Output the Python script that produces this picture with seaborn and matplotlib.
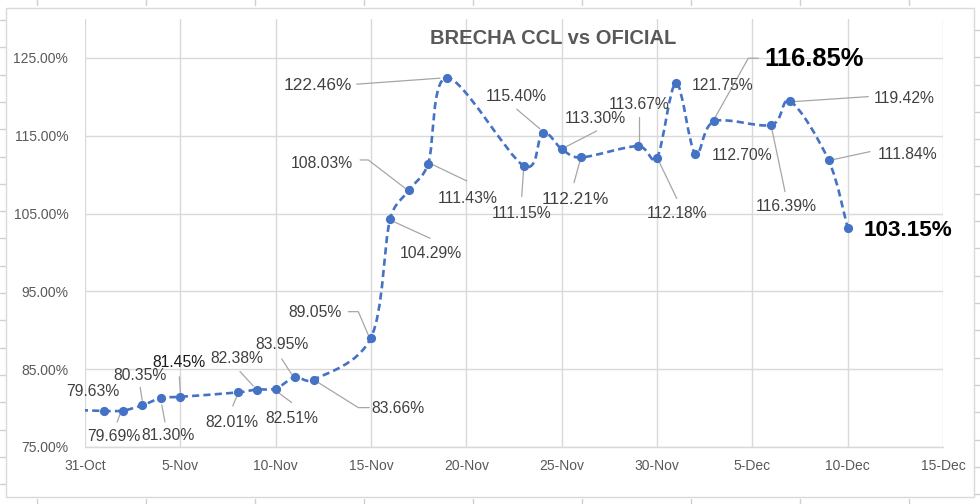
import numpy as np
import pandas as pd
import matplotlib
matplotlib.use("Agg")
import matplotlib.pyplot as plt
import matplotlib.dates as mdates
import matplotlib.transforms as mtransforms
from matplotlib.path import Path
from matplotlib.patches import PathPatch, Rectangle
from matplotlib.lines import Line2D
import seaborn as sns

# ---------------- data ----------------
title = "BRECHA CCL vs OFICIAL"
dates = ["2021-10-29", "2021-11-01", "2021-11-02", "2021-11-03", "2021-11-04",
         "2021-11-05", "2021-11-08", "2021-11-09", "2021-11-10", "2021-11-11",
         "2021-11-12", "2021-11-15", "2021-11-16", "2021-11-17", "2021-11-18",
         "2021-11-19", "2021-11-23", "2021-11-24", "2021-11-25", "2021-11-26",
         "2021-11-29", "2021-11-30", "2021-12-01", "2021-12-02", "2021-12-03",
         "2021-12-06", "2021-12-07", "2021-12-09", "2021-12-10"]
brecha = [79.90, 79.63, 79.69, 80.35, 81.30,
          81.45, 82.01, 82.38, 82.51, 83.95,
          83.66, 89.05, 104.29, 108.03, 111.43,
          122.46, 111.15, 115.40, 113.30, 112.21,
          113.67, 112.18, 121.75, 112.70, 116.85,
          116.39, 119.42, 111.84, 103.15]
xtick_dates = ["2021-10-31", "2021-11-05", "2021-11-10", "2021-11-15", "2021-11-20",
               "2021-11-25", "2021-11-30", "2021-12-05", "2021-12-10", "2021-12-15"]
xtick_labels = ["31-Oct", "5-Nov", "10-Nov", "15-Nov", "20-Nov",
                "25-Nov", "30-Nov", "5-Dec", "10-Dec", "15-Dec"]
ytick_values = [75, 85, 95, 105, 115, 125]
ytick_labels = ["75.00%", "85.00%", "95.00%", "105.00%", "115.00%", "125.00%"]

# ---------------- label layout (pixel offsets from point; y down) ----------------
# index: (dx, dy, leader vertices, fontsize, weight, color)
N, B = "#404040", "#000000"
layout = {
    1: (-11, -19.5, [], 11.3, "normal", N),
    2: (-9, 25.5, [(-6, 11.5), (-3, 3.5)], 11.3, "normal", N),
    3: (-2.2, -29.7, [(-2, -18), (0, -5)], 11.3, "normal", N),
    4: (6.5, 38, [(0.5, 7), (3.7, 24)], 11.3, "normal", N),
    5: (-1.1, -34, [(-1, -20), (0, -4.5)], 11.3, "normal", "#1a1a1a"),
    6: (-5.8, 30.2, [(-4.8, 13.5), (-0.8, 4)], 11.3, "normal", N),
    7: (-19.9, -30.6, [(-16.6, -18), (-3.3, -3.6)], 11.3, "normal", N),
    8: (16, 29.7, [(2.6, 4), (16, 14)], 11.3, "normal", N),
    9: (-13, -32.4, [(-13, -18.4), (-3, -3)], 11.3, "normal", N),
    10: (84.4, 28.7, [(3, 2), (44.5, 28), (55.5, 28)], 11.3, "normal", N),
    11: (-56, -25.4, [(-2.7, -2.7), (-12.7, -26), (-22.7, -26)], 11.3, "normal", N),
    12: (41, 34.2, [(5, 3.2), (40, 19.2)], 11.3, "normal", N),
    13: (-87.8, -26, [(-4, -1.7), (-40.8, -30), (-49, -30)], 11.3, "normal", N),
    14: (39.3, 34.7, [(5, 1.4), (38.5, 17.4)], 11.3, "normal", N),
    15: (-129.8, 8.2, [(-7.3, 0.5), (-90.6, 6.5)], 12.4, "normal", N),
    16: (-2.2, 47.5, [(0, 4.2), (-1.8, 30.9)], 11.3, "normal", N),
    17: (-25.9, -36, [(-2.6, -3.7), (-25.9, -23.4)], 11.3, "normal", N),
    18: (34.1, -30, [(3.3, -1.7), (35, -18)], 11.3, "normal", N),
    19: (-5.5, 41.8, [(-0.7, 3.2), (-6.7, 25.2)], 12.4, "normal", N),
    20: (1.6, -41.8, [(1.4, -3.4), (1.4, -29.4)], 11.3, "normal", N),
    21: (20.5, 55.7, [(1.3, 2.4), (19.7, 40.7)], 11.3, "normal", N),
    22: (46.7, 2.7, [], 11.3, "normal", N),
    23: (47.4, 2.3, [], 11.3, "normal", N),
    24: (99.5, -62.1, [(1, -4), (34.1, -63.1), (44.1, -63.1)], 18.4, "bold", B),
    25: (14.4, 81.7, [(0.3, 3.3), (13.6, 66.7)], 11.3, "normal", N),
    26: (114.2, -2.7, [(2.8, 0.3), (77.8, -4.7)], 11.3, "normal", N),
    27: (79.4, -6.1, [(3.1, -0.4), (41.4, -8.7)], 11.3, "normal", N),
    28: (60.6, 3, [], 16.2, "bold", B),
}

# ---------------- style ----------------
sns.set_style("white")
plt.rcParams["font.family"] = ["Liberation Sans", "DejaVu Sans"]

W, H = 980, 504
AX_L, AX_B, AX_W, AX_H = 85, 57, 858, 428
fig = plt.figure(figsize=(W / 100, H / 100), dpi=100)
fig.patch.set_facecolor("white")
ax = fig.add_axes([AX_L / W, AX_B / H, AX_W / W, AX_H / H])

BLUE = "#4472C4"
GRID = "#d9d9d9"
TICK = "#595959"

df = pd.DataFrame({"fecha": pd.to_datetime(dates), "brecha": brecha})

# markers through seaborn
sns.scatterplot(data=df, x="fecha", y="brecha", ax=ax, color=BLUE, s=44,
                linewidth=0, zorder=4, legend=False)

xt = mdates.date2num(pd.to_datetime(xtick_dates))
YMIN, YMAX = 75, 130

# smoothed dashed line (Excel-like Bezier path through the data points)
xn = mdates.date2num(df["fecha"])
sx = AX_W / (xt[-1] - xt[0])      # screen scale for control-point clamping
sy = AX_H / (YMAX - YMIN)
pts = np.column_stack([xn * sx, df["brecha"].to_numpy() * sy])
verts = [pts[0]]
codes = [Path.MOVETO]
n = len(pts)


def clamp(t, seg):
    L = np.hypot(*t)
    lim = seg / 2.0
    return t * (lim / L) if L > lim and L > 0 else t


for i in range(n - 1):
    p0 = pts[i - 1] if i > 0 else pts[i]
    p1 = pts[i]
    p2 = pts[i + 1]
    p3 = pts[i + 2] if i + 2 < n else pts[i + 1]
    seg = np.hypot(*(p2 - p1))
    t1 = clamp((p2 - p0) / 6.0, seg)
    t2 = clamp((p3 - p1) / 6.0, seg)
    verts += [p1 + t1, p2 - t2, p2]
    codes += [Path.CURVE4] * 3
verts = np.array(verts) / np.array([sx, sy])
line_patch = PathPatch(Path(verts, codes), fill=False, edgecolor=BLUE, lw=1.9,
                       linestyle=(0, (2.7, 1.6)), capstyle="butt", zorder=3)
ax.add_patch(line_patch)

# axes
ax.set_xlim(xt[0], xt[-1])
ax.set_ylim(YMIN, YMAX)
ax.set_xticks(xt)
ax.set_xticklabels(xtick_labels)
ax.set_yticks(ytick_values)
ax.set_yticklabels(ytick_labels)
ax.set_xlabel("")
ax.set_ylabel("")
ax.tick_params(axis="x", length=0, pad=9, labelsize=10, labelcolor=TICK)
ax.tick_params(axis="y", length=0, pad=12, labelsize=10, labelcolor=TICK)
ax.grid(True, color=GRID, lw=1)
ax.set_axisbelow(True)
for s in ["top", "right", "left"]:
    ax.spines[s].set_visible(False)
ax.spines["bottom"].set_color(GRID)
ax.spines["bottom"].set_linewidth(1)


def px_trans(x, y):
    return (mtransforms.Affine2D().scale(fig.dpi / 100, -fig.dpi / 100)
            + mtransforms.ScaledTranslation(x, y, ax.transData))


for i, (dx, dy, leader, fs, fw, col) in layout.items():
    x, v = xn[i], brecha[i]
    ax.annotate(f"{v:.2f}%", xy=(x, v), xytext=(dx * 0.72, -dy * 0.72),
                textcoords="offset points", ha="center", va="center",
                fontsize=fs, fontweight=fw, color=col, zorder=6)
    if leader:
        lx = [p[0] for p in leader]
        ly = [p[1] for p in leader]
        ln = Line2D(lx, ly, transform=px_trans(x, v), color="#a6a6a6", lw=0.9,
                    zorder=3.5, clip_on=False)
        ax.add_artist(ln)

# title
fig.text(553 / W, 1 - 38 / H, title, ha="center", va="center", fontsize=14.5,
         fontweight="bold", color=TICK)

# outer chart frame
fig.add_artist(Rectangle((6 / W, 1 - 497 / H), (974 - 6) / W, (497 - 8) / H,
                         transform=fig.transFigure, fill=False,
                         edgecolor="#d9d9d9", lw=1))
# spreadsheet cell marks around the frame
EC = "#d0d0d0"
for cx in [37, 146, 255, 364, 473, 582, 691, 800, 909]:
    fig.add_artist(Line2D([cx / W, cx / W], [1, 1 - 5 / H], transform=fig.transFigure, color=EC, lw=1))
    fig.add_artist(Line2D([cx / W, cx / W], [0, 5 / H], transform=fig.transFigure, color=EC, lw=1))
for k in range(18):
    yl = 20 + 27.3 * k
    if yl < H:
        fig.add_artist(Line2D([0, 5 / W], [1 - yl / H, 1 - yl / H], transform=fig.transFigure, color=EC, lw=1))
    yr = 30 + 27.3 * k
    if yr < H:
        fig.add_artist(Line2D([1 - 5 / W, 1], [1 - yr / H, 1 - yr / H], transform=fig.transFigure, color=EC, lw=1))

fig.savefig("out.png", dpi=100, facecolor="white")
